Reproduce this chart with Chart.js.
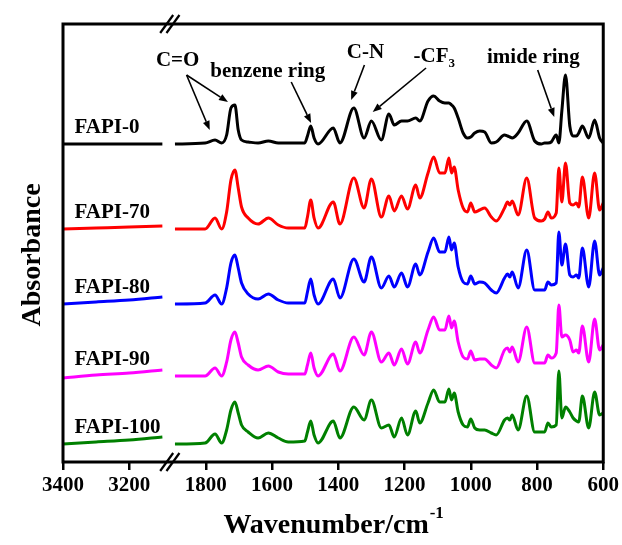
<!DOCTYPE html>
<html><head><meta charset="utf-8">
<script src="https://cdn.jsdelivr.net/npm/chart.js@4/dist/chart.umd.min.js"></script>
<style>html,body{margin:0;padding:0;background:#fff}#wrap{width:622px;height:545px}</style>
</head><body><div id="wrap"><canvas id="c" width="622" height="545"></canvas></div>
<script>
// ---- data (wavenumber in cm^-1, absorbance in a.u., relative to each curve's baseline) ----
const wavenumbers = [1893,1802,1772,1752,1737,1724,1712,1702,1692,1672,1642,1611,1581,1551,1501,1493,1483,1473,1461,1415,1395,1353,1322,1300,1270,1247,1231,1209,1191,1166,1154,1129,1112,1094,1078,1066,1058,1050,1038,1023,1010,1000,988,973,958,938,923,898,889,882,875,857,831,807,787,777,767,757,742,734,725,714,701,691,681,674,663,644,626,611,600];
const leftWavenumbers = [3400,3300,3200,3100];

const fapi0   = [0,0.01,0.04,0.01,0.09,0.36,0.39,0.14,0.04,0.02,0.01,0.03,0.01,0.01,0.01,0.08,0.18,0.06,0,0.16,0.01,0.36,0.06,0.23,0.04,0.30,0.19,0.23,0.23,0.26,0.23,0.43,0.48,0.43,0.41,0.41,0.39,0.36,0.26,0.11,0.06,0.07,0.11,0.13,0.12,0.01,0.02,0.09,0.08,0.07,0.06,0.11,0.23,0.03,0,0.01,0.01,0.02,0.09,0.01,0.33,0.69,0.18,0.08,0.08,0.11,0.18,0.06,0.24,0.06,0.01];
const fapi70  = [0,0,0.11,0,0.17,0.49,0.59,0.41,0.22,0.11,0.05,0.11,0.04,0.01,0.01,0.12,0.29,0.11,0.01,0.27,0.05,0.51,0.21,0.50,0.12,0.33,0.18,0.33,0.20,0.44,0.31,0.56,0.72,0.56,0.56,0.71,0.56,0.62,0.39,0.21,0.17,0.26,0.17,0.19,0.21,0.12,0.08,0.21,0.27,0.24,0.28,0.14,0.51,0.11,0.08,0.10,0.17,0.11,0.16,0.61,0.27,0.66,0.26,0.24,0.26,0.22,0.52,0.11,0.56,0.19,0.26];
const fapi80  = [0,0.01,0.09,0,0.16,0.41,0.49,0.36,0.21,0.10,0.05,0.10,0.04,0.01,0.01,0.12,0.25,0.09,0,0.25,0.06,0.45,0.22,0.47,0.16,0.28,0.17,0.31,0.17,0.40,0.29,0.52,0.66,0.52,0.52,0.67,0.54,0.61,0.37,0.22,0.20,0.28,0.20,0.22,0.21,0.14,0.11,0.26,0.30,0.27,0.32,0.16,0.54,0.14,0.14,0.14,0.22,0.19,0.21,0.72,0.39,0.60,0.29,0.27,0.29,0.26,0.56,0.17,0.63,0.29,0.36];
const fapi90  = [0,0,0.08,0,0.14,0.36,0.44,0.33,0.19,0.11,0.06,0.10,0.04,0.02,0.02,0.11,0.23,0.08,0,0.22,0.05,0.39,0.21,0.44,0.14,0.23,0.11,0.27,0.12,0.34,0.23,0.46,0.59,0.46,0.46,0.60,0.48,0.55,0.34,0.19,0.17,0.25,0.16,0.17,0.17,0.11,0.08,0.26,0.28,0.24,0.29,0.14,0.49,0.13,0.13,0.13,0.21,0.18,0.23,0.71,0.39,0.41,0.36,0.24,0.26,0.23,0.50,0.14,0.57,0.26,0.31];
const fapi100 = [0,0.01,0.10,0.01,0.14,0.34,0.42,0.31,0.19,0.12,0.06,0.11,0.06,0.02,0.03,0.12,0.23,0.09,0.01,0.23,0.06,0.37,0.24,0.44,0.16,0.19,0.07,0.26,0.09,0.33,0.21,0.41,0.54,0.42,0.42,0.55,0.44,0.51,0.32,0.19,0.17,0.25,0.16,0.14,0.14,0.11,0.09,0.24,0.26,0.24,0.29,0.14,0.48,0.12,0.12,0.12,0.21,0.17,0.19,0.73,0.26,0.37,0.32,0.26,0.23,0.22,0.48,0.16,0.52,0.29,0.31];

const fapi0Left   = [0,0,0,0];
const fapi70Left  = [0,0.01,0.02,0.03];
const fapi80Left  = [0,0.02,0.04,0.07];
const fapi90Left  = [-0.02,0.01,0.03,0.06];
const fapi100Left = [0,0.02,0.04,0.07];

const seriesNames = ['FAPI-0','FAPI-70','FAPI-80','FAPI-90','FAPI-100'];
const baselines = [3.18,2.33,1.58,0.86,0.18];
const seriesColors = ['#000000','#ff0000','#0000ff','#ff00ff','#008000'];
const tickWavenumbers = [3400,3200,1800,1600,1400,1200,1000,800,600];

// annotation labels: [text, wavenumber, absorbance]
const peakLabels = [['C=O',1885,4.01],['benzene ring',1613,3.90],['C-N',1318,4.09],['-CF3',1110,4.05],['imide ring',811,4.04]];
// arrows: [fromWavenumber, fromAbs, toWavenumber, toAbs]
const arrows = [[1858,3.87,1788,3.32],[1858,3.87,1733,3.60],[1542,3.80,1482,3.39],[1321,3.97,1361,3.62],[1135,3.94,1296,3.50],[798,3.92,748,3.45]];

// ---- broken axis: 3400–3100 segment shifted next to 1900–600 ----
const SHIFT = 1169;
const mapW = w => (w > 2500 ? w - SHIFT : w);
const unmapW = v => (v > 1910 ? v + SHIFT : v);

const rightSets = [fapi0,fapi70,fapi80,fapi90,fapi100];
const leftSets = [fapi0Left,fapi70Left,fapi80Left,fapi90Left,fapi100Left];

const datasets = seriesNames.map((name,i)=>{
  const pts = leftWavenumbers.map((w,j)=>({x:mapW(w), y:baselines[i]+leftSets[i][j]}));
  pts.push({x:1912, y:null});
  wavenumbers.forEach((w,j)=>pts.push({x:mapW(w), y:baselines[i]+rightSets[i][j]}));
  return {label:name, data:pts, borderColor:seriesColors[i], backgroundColor:seriesColors[i],
    borderWidth:3, pointRadius:0, cubicInterpolationMode:'monotone', spanGaps:false, fill:false};
});

const FONT = '"Liberation Serif","Times New Roman",serif';

const deco = {
  id:'deco',
  afterDraw(chart){
    const {ctx, chartArea:a, scales:{x,y}} = chart;
    ctx.save();
    ctx.strokeStyle='#000'; ctx.lineWidth=3;
    ctx.strokeRect(a.left,a.top,a.right-a.left,a.bottom-a.top);
    // break marks
    ctx.lineWidth=2.2;
    [1918,1899].forEach(v=>{
      const px=x.getPixelForValue(v);
      [a.top,a.bottom].forEach(py=>{
        ctx.beginPath(); ctx.moveTo(px-6.5,py+9); ctx.lineTo(px+6.5,py-9); ctx.stroke();
      });
    });
    // series labels
    ctx.fillStyle='#000'; ctx.textBaseline='middle'; ctx.textAlign='left';
    ctx.font='bold 21px '+FONT;
    seriesNames.forEach((n,i)=>{
      ctx.fillText(n, x.getPixelForValue(mapW(3365)), y.getPixelForValue(baselines[i]+0.16));
    });
    // peak labels
    ctx.textAlign='center';
    peakLabels.forEach(([t,w,v])=>{
      const px=x.getPixelForValue(mapW(w)), py=y.getPixelForValue(v);
      if(t==='-CF3'){
        ctx.font='bold 21px '+FONT;
        const w1=ctx.measureText('-CF').width;
        ctx.font='bold 13px '+FONT;
        const w2=ctx.measureText('3').width;
        const sx=px-(w1+w2)/2;
        ctx.textAlign='left';
        ctx.font='bold 21px '+FONT; ctx.fillText('-CF',sx,py);
        ctx.font='bold 13px '+FONT; ctx.fillText('3',sx+w1,py+7);
        ctx.textAlign='center';
      } else {
        ctx.font='bold 21px '+FONT; ctx.fillText(t,px,py);
      }
    });
    // arrows
    ctx.lineWidth=1.6;
    arrows.forEach(([w1,v1,w2,v2])=>{
      const x1=x.getPixelForValue(mapW(w1)), y1=y.getPixelForValue(v1);
      const x2=x.getPixelForValue(mapW(w2)), y2=y.getPixelForValue(v2);
      const ang=Math.atan2(y2-y1,x2-x1), L=9, H=3.5;
      const bx=x2-L*Math.cos(ang), by=y2-L*Math.sin(ang);
      ctx.beginPath(); ctx.moveTo(x1,y1); ctx.lineTo(bx,by); ctx.stroke();
      ctx.beginPath(); ctx.moveTo(x2,y2);
      ctx.lineTo(bx+H*Math.sin(ang), by-H*Math.cos(ang));
      ctx.lineTo(bx-H*Math.sin(ang), by+H*Math.cos(ang));
      ctx.closePath(); ctx.fill();
    });
    // axis titles
    ctx.font='bold 28px '+FONT;
    ctx.textBaseline='alphabetic';
    const t1='Wavenumber/cm';
    const tw=ctx.measureText(t1).width;
    ctx.font='bold 17px '+FONT;
    const sw=ctx.measureText('-1').width;
    const cx=(a.left+a.right)/2, sx=cx-(tw+sw)/2;
    ctx.textAlign='left';
    ctx.font='bold 28px '+FONT; ctx.fillText(t1,sx,533);
    ctx.font='bold 17px '+FONT; ctx.fillText('-1',sx+tw+1,518);
    ctx.save();
    ctx.translate(33,255); ctx.rotate(-Math.PI/2);
    ctx.textAlign='center'; ctx.textBaseline='middle';
    ctx.font='bold 28px '+FONT; ctx.fillText('Absorbance',0,0);
    ctx.restore();
    ctx.restore();
  }
};

new Chart(document.getElementById('c'),{
  type:'line',
  data:{datasets},
  options:{
    responsive:false, animation:false, devicePixelRatio:1,
    layout:{padding:{top:24,right:18,left:0,bottom:0}},
    plugins:{legend:{display:false},tooltip:{enabled:false}},
    scales:{
      x:{type:'linear', reverse:true, min:600, max:mapW(3400)-0,
        afterBuildTicks(s){ s.ticks = tickWavenumbers.map(w=>({value:mapW(w)})); },
        afterFit(s){ s.height=83; },
        border:{display:false},
        grid:{display:true, drawOnChartArea:false, drawTicks:true, tickLength:8, lineWidth:2.5, color:'#000'},
        ticks:{autoSkip:false, maxRotation:0, padding:3, color:'#000', font:{family:FONT, size:21, weight:'bold'},
          callback:(v)=>String(unmapW(v))}
      },
      y:{min:0, max:4.38, afterFit(s){ s.width=63; },
        border:{display:false}, grid:{display:false}, ticks:{display:false}}
    }
  },
  plugins:[deco]
});
</script></body></html>
